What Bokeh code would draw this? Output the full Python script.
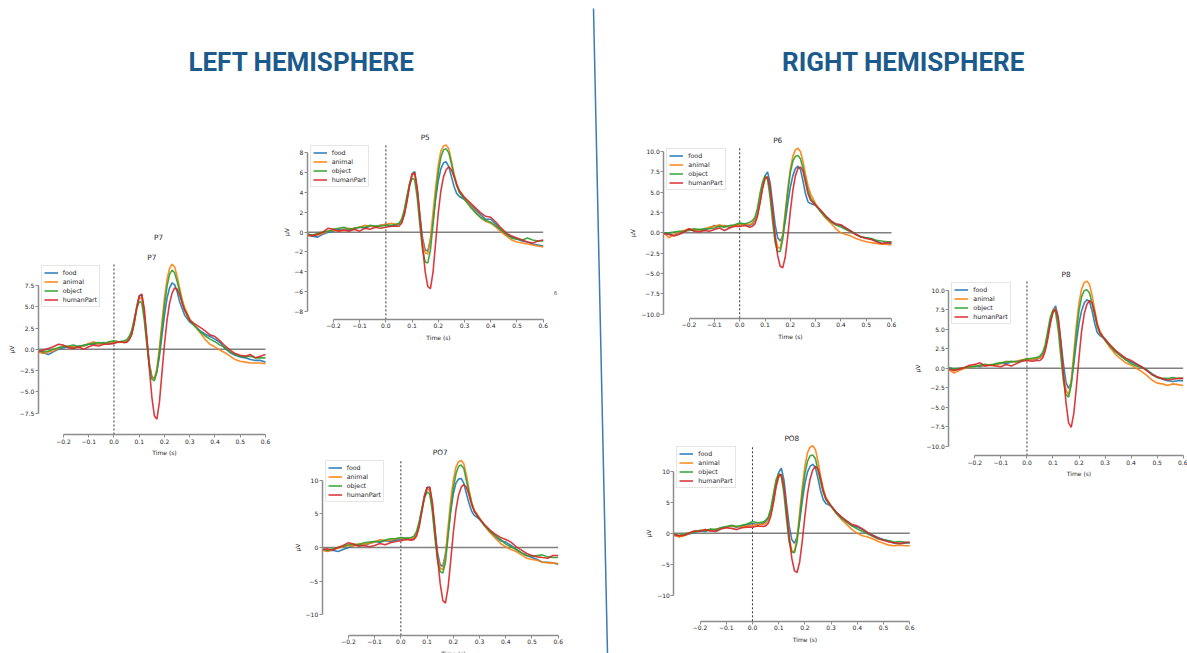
from bokeh.plotting import figure
from bokeh.models import (Range1d, LinearAxis, FixedTicker, CustomJSTickFormatter,
                          Legend, LegendItem)
from bokeh.core.properties import value
from bokeh.embed import file_html
from bokeh.resources import INLINE

W, H = 1187, 653

# ---------------------------------------------------------------- data
times = [-0.30, -0.28, -0.26, -0.24, -0.22, -0.20, -0.18, -0.16, -0.14, -0.12,
         -0.10, -0.08, -0.06, -0.04, -0.02, 0.00, 0.02, 0.04,
         0.05, 0.06, 0.07, 0.08, 0.09, 0.10, 0.11, 0.12, 0.13, 0.14, 0.15, 0.16,
         0.17, 0.18, 0.19, 0.20, 0.21, 0.22, 0.23, 0.24, 0.25, 0.26, 0.27, 0.28,
         0.30, 0.32, 0.34, 0.36, 0.38, 0.40, 0.42, 0.44, 0.46, 0.48, 0.50, 0.52,
         0.54, 0.56, 0.58, 0.60]

conditions = ["food", "animal", "object", "humanPart"]
colors = ["#1f77b4", "#ff7f0e", "#2ca02c", "#d62728"]

x_ticks = [-0.2, -0.1, 0.0, 0.1, 0.2, 0.3, 0.4, 0.5, 0.6]
P7_yticks = [-7.5, -5.0, -2.5, 0.0, 2.5, 5.0, 7.5]
P5_yticks = [-8, -6, -4, -2, 0, 2, 4, 6, 8]
PO7_yticks = [-10, -5, 0, 5, 10]
P6_yticks = [-10.0, -7.5, -5.0, -2.5, 0.0, 2.5, 5.0, 7.5, 10.0]
PO8_yticks = [-10, -5, 0, 5, 10]
P8_yticks = [-10.0, -7.5, -5.0, -2.5, 0.0, 2.5, 5.0, 7.5, 10.0]

# P7 (µV)
P7_food = [-0.2, -0.4, -0.6, -0.3, 0.0, 0.2, 0.3, 0.2, 0.4, 0.4, 0.6, 0.6, 0.7, 0.8, 0.7, 0.8, 0.9, 0.8,
           0.9, 1.2, 1.8, 3.2, 5.0, 6.3, 6.4, 4.2, 1.2, -1.6, -3.2, -3.4, -2.6, -0.8, 1.6, 4.0, 6.0, 7.2, 7.8, 7.6, 6.8, 5.6, 4.8, 4.0,
           3.2, 2.8, 2.2, 1.8, 1.5, 1.2, 0.8, 0.1, -0.4, -0.7, -0.9, -1.0, -1.2, -1.3, -1.3, -1.5]
P7_animal = [-0.3, -0.5, -0.3, -0.2, 0.1, 0.4, 0.3, 0.3, 0.2, 0.4, 0.7, 0.9, 0.6, 0.7, 0.8, 0.9, 0.8, 0.9,
             1.0, 1.3, 1.9, 3.3, 4.9, 6.0, 6.1, 3.9, 1.0, -1.8, -3.3, -3.5, -2.2, 0.2, 3.2, 6.0, 8.2, 9.5, 10.0, 9.7, 8.6, 7.2, 5.9, 4.9,
             3.6, 2.8, 2.0, 1.2, 0.6, 0.3, -0.1, -0.4, -0.8, -1.2, -1.4, -1.5, -1.6, -1.6, -1.6, -1.7]
P7_object = [-0.1, -0.3, -0.2, 0.0, 0.2, 0.3, 0.4, 0.5, 0.3, 0.5, 0.6, 0.7, 0.8, 0.7, 0.9, 1.0, 0.9, 1.0,
             1.1, 1.5, 2.2, 3.5, 4.8, 5.6, 5.5, 3.5, 0.6, -2.0, -3.5, -3.7, -2.6, -0.4, 2.4, 5.2, 7.4, 8.8, 9.3, 9.0, 8.0, 6.8, 5.6, 4.6,
             3.4, 2.7, 2.1, 1.6, 1.2, 0.9, 0.5, 0.2, -0.3, -0.6, -0.8, -0.9, -0.8, -1.0, -1.0, -1.0]
P7_humanPart = [-0.3, -0.1, 0.1, 0.3, 0.6, 0.5, 0.2, 0.1, 0.3, 0.0, 0.3, 0.5, 0.4, 0.6, 0.6, 0.7, 0.9, 0.8,
                0.8, 1.1, 1.7, 3.0, 4.8, 6.2, 6.5, 4.8, 1.5, -2.2, -5.6, -7.8, -8.2, -6.2, -2.8, 0.6, 3.4, 5.4, 6.6, 7.2, 7.1, 6.4, 5.4, 4.6,
                3.4, 3.0, 2.6, 2.2, 1.7, 1.5, 1.0, 0.4, -0.1, -0.5, -0.7, -0.8, -0.6, -1.0, -0.8, -0.6]

# P5 (µV)
P5_food = [-0.3, -0.4, -0.5, -0.2, 0.0, 0.1, 0.3, 0.3, 0.2, 0.4, 0.5, 0.4, 0.6, 0.6, 0.7, 0.8, 0.6, 0.7,
           0.8, 1.0, 1.8, 3.2, 4.8, 5.9, 6.1, 4.2, 1.6, -0.6, -1.8, -1.9, -0.8, 1.2, 3.4, 5.2, 6.4, 7.0, 7.1, 6.6, 5.6, 4.6, 3.9, 3.6,
           3.3, 2.8, 2.3, 1.8, 1.3, 1.3, 0.8, 0.2, -0.3, -0.5, -0.7, -0.9, -1.0, -1.2, -1.3, -1.4]
P5_animal = [-0.4, -0.3, -0.3, -0.1, 0.1, 0.2, 0.1, 0.3, 0.4, 0.3, 0.5, 0.7, 0.6, 0.5, 0.7, 0.8, 0.9, 0.8,
             0.8, 1.1, 1.9, 3.3, 4.8, 5.8, 5.9, 4.0, 1.3, -0.9, -2.1, -2.2, -0.6, 2.0, 4.6, 6.8, 8.2, 8.7, 8.8, 8.4, 7.2, 5.9, 4.9, 4.2,
             3.4, 2.7, 2.1, 1.5, 1.1, 0.9, 0.5, 0.0, -0.4, -0.8, -1.0, -1.1, -1.2, -1.3, -1.4, -1.5]
P5_object = [-0.2, -0.3, -0.1, 0.0, 0.1, 0.3, 0.4, 0.5, 0.3, 0.4, 0.5, 0.5, 0.7, 0.6, 0.6, 0.7, 0.7, 0.8,
             0.9, 1.3, 2.2, 3.6, 4.8, 5.4, 5.3, 3.4, 0.6, -1.8, -3.0, -3.1, -1.8, 0.8, 3.6, 6.0, 7.6, 8.3, 8.4, 8.0, 6.9, 5.7, 4.7, 4.0,
             3.3, 2.6, 2.0, 1.5, 1.2, 1.0, 0.6, 0.2, -0.2, -0.6, -0.7, -0.8, -0.6, -0.8, -0.9, -0.9]
P5_humanPart = [-0.2, -0.4, -0.2, 0.0, 0.4, 0.3, 0.1, 0.2, 0.1, 0.3, 0.1, 0.4, 0.3, 0.5, 0.4, 0.5, 0.6, 0.6,
                0.6, 0.9, 1.7, 3.0, 4.6, 5.8, 6.0, 4.4, 1.6, -1.4, -4.0, -5.5, -5.7, -4.0, -1.0, 2.0, 4.2, 5.6, 6.3, 6.6, 6.3, 5.6, 4.8, 4.2,
                3.5, 3.0, 2.5, 2.0, 1.6, 1.5, 1.0, 0.4, -0.1, -0.4, -0.6, -0.8, -1.0, -1.1, -0.9, -0.8]

# PO7 (µV)
PO7_food = [-0.3, -0.5, -0.4, -0.6, -0.3, 0.0, 0.3, 0.4, 0.3, 0.6, 0.9, 0.8, 1.0, 0.9, 1.1, 1.2, 1.3, 1.2,
            1.4, 2.0, 3.4, 5.6, 7.8, 9.0, 9.0, 6.4, 2.6, -0.8, -2.6, -2.8, -1.0, 2.2, 5.4, 8.0, 9.6, 10.2, 10.3, 9.6, 8.0, 6.6, 5.4, 4.8,
            4.2, 3.2, 2.4, 1.6, 1.0, 0.8, 0.3, -0.3, -0.8, -1.2, -1.5, -1.8, -2.2, -2.2, -2.3, -2.5]
PO7_animal = [-0.4, -0.6, -0.3, -0.1, 0.1, 0.3, 0.2, 0.6, 0.5, 0.6, 0.8, 1.2, 1.0, 1.1, 1.3, 1.4, 1.2, 1.3,
              1.5, 2.1, 3.5, 5.6, 7.6, 8.7, 8.6, 6.0, 2.0, -1.4, -3.1, -3.3, -1.2, 3.0, 7.0, 10.0, 12.0, 12.8, 13.0, 12.5, 10.8, 8.6, 6.8, 5.6,
              4.4, 3.2, 2.2, 1.4, 0.6, 0.1, -0.3, -0.6, -1.1, -1.6, -1.8, -1.9, -2.2, -2.3, -2.3, -2.4]
PO7_object = [-0.2, -0.4, -0.2, 0.0, 0.2, 0.4, 0.5, 0.4, 0.7, 0.8, 0.9, 0.9, 1.1, 1.3, 1.3, 1.5, 1.4, 1.5,
              1.7, 2.4, 3.9, 5.8, 7.4, 8.3, 8.0, 5.4, 1.4, -2.0, -3.6, -3.8, -2.2, 1.6, 5.6, 8.8, 11.0, 12.1, 12.3, 11.8, 10.0, 8.2, 6.6, 5.4,
              4.3, 3.2, 2.4, 1.8, 1.2, 0.5, 0.1, -0.3, -0.8, -1.2, -1.3, -1.2, -1.1, -1.4, -1.5, -1.5]
PO7_humanPart = [-0.3, -0.2, -0.4, 0.0, 0.3, 0.7, 0.5, 0.2, 0.3, 0.1, 0.3, 0.6, 0.4, 0.7, 0.9, 1.0, 1.2, 1.1,
                 1.2, 1.7, 3.1, 5.3, 7.6, 8.9, 9.0, 6.8, 2.8, -1.6, -5.4, -7.9, -8.3, -6.0, -2.0, 2.2, 5.6, 7.8, 9.0, 9.4, 9.0, 7.8, 6.4, 5.4,
                 4.3, 3.4, 2.6, 2.0, 1.5, 1.2, 0.8, 0.1, -0.4, -0.9, -1.2, -1.4, -1.5, -1.6, -1.2, -1.2]

# P6 (µV)
P6_food = [0.0, -0.1, -0.3, 0.0, 0.2, 0.4, 0.3, 0.4, 0.3, 0.6, 0.9, 0.8, 0.9, 0.7, 0.9, 1.1, 1.0, 0.9,
           1.1, 1.5, 2.3, 3.8, 5.6, 7.0, 7.5, 6.2, 3.6, 1.0, -0.6, -1.0, -0.4, 1.4, 3.6, 5.6, 7.0, 7.9, 8.2, 7.8, 6.4, 4.8, 3.8, 3.6,
           3.4, 2.7, 2.0, 1.4, 1.0, 0.9, 0.5, 0.2, -0.2, -0.5, -0.6, -0.8, -1.0, -1.3, -1.3, -1.3]
P6_animal = [0.0, -0.6, -0.2, 0.1, 0.3, 0.5, 0.4, 0.3, 0.5, 0.7, 0.8, 1.0, 0.8, 0.8, 0.9, 1.0, 1.1, 1.0,
             1.2, 1.6, 2.4, 3.9, 5.5, 6.6, 6.8, 5.2, 2.4, -0.4, -1.8, -1.9, -0.2, 2.6, 5.4, 7.8, 9.4, 10.2, 10.4, 10.0, 8.8, 7.2, 5.8, 4.8,
             3.6, 2.6, 1.8, 1.2, 0.5, 0.0, -0.2, -0.4, -0.7, -0.9, -1.1, -1.2, -1.3, -1.4, -1.4, -1.5]
P6_object = [-0.1, 0.0, 0.1, 0.2, 0.2, 0.3, 0.5, 0.4, 0.5, 0.5, 0.6, 0.8, 0.7, 0.9, 1.0, 1.2, 1.1, 1.3,
             1.5, 1.9, 3.0, 4.8, 6.2, 7.0, 6.6, 4.4, 1.4, -1.2, -2.3, -2.3, -0.8, 2.0, 5.0, 7.4, 8.8, 9.4, 9.5, 9.1, 8.0, 6.6, 5.2, 4.3,
             3.4, 2.6, 1.9, 1.4, 1.0, 0.7, 0.4, 0.1, -0.2, -0.5, -0.6, -0.7, -0.9, -1.0, -1.1, -1.1]
P6_humanPart = [-0.1, -0.2, -0.4, -0.2, 0.1, 0.5, 0.2, 0.1, 0.3, 0.2, 0.4, 0.6, 0.3, 0.6, 0.8, 0.8, 0.9, 0.7,
                0.8, 1.1, 2.0, 3.6, 5.4, 6.7, 6.9, 5.6, 2.8, -0.4, -2.8, -4.1, -4.3, -3.0, -0.4, 2.6, 5.2, 7.0, 7.9, 8.1, 7.6, 6.2, 4.8, 4.0,
                3.4, 2.8, 2.1, 1.5, 1.1, 1.0, 0.6, 0.2, -0.2, -0.5, -0.7, -0.8, -1.1, -1.3, -1.2, -1.2]

# PO8 (µV)
PO8_food = [-0.3, -0.5, -0.3, -0.1, 0.2, 0.4, 0.3, 0.6, 0.5, 0.9, 1.1, 1.2, 1.0, 1.2, 1.4, 1.6, 1.4, 1.6,
            1.9, 2.4, 3.4, 5.4, 7.8, 9.8, 10.5, 8.6, 4.8, 1.2, -1.0, -1.6, -0.6, 2.0, 5.2, 8.0, 9.9, 10.8, 11.1, 10.6, 8.8, 6.8, 5.4, 4.8,
            4.4, 3.4, 2.6, 1.8, 1.2, 1.0, 0.6, 0.1, -0.3, -0.7, -1.0, -1.2, -1.6, -1.7, -1.6, -1.5]
PO8_animal = [-0.3, -0.6, -0.4, 0.0, 0.3, 0.4, 0.6, 0.4, 0.7, 0.8, 1.0, 1.2, 1.1, 1.0, 1.2, 1.3, 1.5, 1.4,
              1.6, 2.0, 3.0, 5.0, 7.4, 9.0, 9.3, 7.2, 3.4, -0.6, -2.8, -3.0, -0.8, 3.4, 7.4, 10.8, 13.0, 13.9, 14.1, 13.5, 11.6, 9.2, 7.2, 5.8,
              4.4, 3.2, 2.2, 1.4, 0.6, 0.0, -0.4, -0.6, -0.9, -1.3, -1.6, -1.9, -2.0, -1.9, -2.0, -2.0]
PO8_object = [-0.1, -0.3, -0.1, 0.1, 0.2, 0.5, 0.4, 0.7, 0.6, 0.9, 1.0, 1.3, 1.1, 1.3, 1.5, 1.9, 1.7, 1.8,
              2.1, 2.6, 4.0, 6.4, 8.6, 9.6, 9.2, 6.4, 2.2, -1.4, -3.0, -3.1, -1.4, 2.4, 6.4, 9.6, 11.6, 12.5, 12.6, 12.0, 10.2, 8.2, 6.6, 5.4,
              4.3, 3.2, 2.4, 1.8, 1.2, 0.7, 0.3, -0.1, -0.5, -0.9, -1.1, -1.2, -1.4, -1.3, -1.4, -1.5]
PO8_humanPart = [-0.2, -0.4, -0.3, 0.1, 0.4, 0.3, 0.6, 0.4, 0.3, 0.7, 0.9, 0.8, 0.6, 0.9, 1.0, 1.0, 1.2, 1.1,
                 1.2, 1.6, 2.8, 5.0, 7.6, 9.3, 9.5, 7.6, 3.8, -0.6, -4.0, -6.0, -6.3, -4.6, -1.2, 2.8, 6.4, 8.8, 10.2, 10.8, 10.3, 8.8, 6.8, 5.6,
                 4.4, 3.4, 2.6, 2.0, 1.4, 1.2, 0.7, 0.1, -0.4, -0.8, -1.1, -1.4, -1.5, -1.6, -1.5, -1.4]

# P8 (µV)
P8_food = [0.0, -0.1, -0.2, 0.0, 0.2, 0.3, 0.2, 0.4, 0.4, 0.5, 0.7, 0.6, 0.8, 0.9, 1.0, 1.2, 1.1, 1.2,
           1.4, 1.7, 2.6, 4.2, 6.0, 7.4, 8.0, 6.6, 3.6, 0.6, -1.8, -2.6, -1.8, 0.6, 3.4, 5.8, 7.4, 8.4, 8.8, 8.6, 7.4, 5.8, 4.6, 4.2,
           3.8, 2.9, 2.2, 1.6, 1.1, 0.8, 0.5, 0.2, -0.2, -0.7, -1.1, -1.4, -1.6, -1.7, -1.6, -1.6]
P8_animal = [-0.2, -0.6, -0.3, 0.0, 0.1, 0.3, 0.4, 0.3, 0.5, 0.4, 0.6, 0.9, 0.8, 0.9, 1.1, 1.2, 1.1, 1.3,
             1.3, 1.6, 2.4, 4.0, 5.9, 7.3, 7.7, 6.0, 2.8, -0.6, -2.8, -3.4, -1.6, 2.0, 5.6, 8.4, 10.2, 11.0, 11.2, 10.8, 9.4, 7.6, 5.8, 4.8,
             3.6, 2.6, 1.8, 1.2, 0.7, 0.4, 0.0, -0.4, -0.9, -1.5, -1.9, -2.0, -2.2, -2.0, -2.1, -2.2]
P8_object = [0.1, -0.1, 0.0, 0.1, 0.2, 0.2, 0.4, 0.5, 0.4, 0.6, 0.7, 0.8, 0.9, 0.8, 1.0, 1.2, 1.3, 1.4,
             1.6, 2.0, 3.0, 4.8, 6.6, 7.5, 7.2, 5.0, 1.6, -1.6, -3.4, -3.7, -2.2, 1.0, 4.6, 7.4, 9.2, 10.0, 10.1, 9.7, 8.4, 6.8, 5.4, 4.5,
             3.6, 2.8, 2.1, 1.6, 1.1, 0.6, 0.3, 0.1, -0.2, -0.8, -1.2, -1.3, -1.3, -1.2, -1.3, -1.3]
P8_humanPart = [-0.1, -0.3, -0.1, 0.1, 0.4, 0.5, 0.7, 0.3, 0.4, 0.3, 0.2, 0.5, 0.3, 0.6, 0.9, 1.0, 0.9, 1.0,
                1.0, 1.3, 2.2, 3.8, 5.8, 7.2, 7.6, 6.4, 3.4, -0.6, -4.4, -7.0, -7.6, -5.8, -2.4, 1.4, 4.8, 7.0, 8.2, 8.7, 8.4, 7.2, 5.6, 4.6,
                3.7, 3.0, 2.3, 1.8, 1.3, 1.0, 0.6, 0.2, -0.3, -0.8, -1.1, -1.3, -1.5, -1.4, -1.3, -1.3]

channels = {
    "P7": [P7_food, P7_animal, P7_object, P7_humanPart],
    "P5": [P5_food, P5_animal, P5_object, P5_humanPart],
    "PO7": [PO7_food, PO7_animal, PO7_object, PO7_humanPart],
    "P6": [P6_food, P6_animal, P6_object, P6_humanPart],
    "PO8": [PO8_food, PO8_animal, PO8_object, PO8_humanPart],
    "P8": [P8_food, P8_animal, P8_object, P8_humanPart],
}

# ---------------------------------------------------------------- layout
# axes box on the page (left, right, top, bottom in px), symmetric y limit,
# y ticks and decimals of the y tick labels
panels = [
    ("P7", 37.7, 265.0, 263.7, 434.0, 10.0, P7_yticks, 1),
    ("P5", 306.7, 542.7, 144.4, 318.9, 8.8, P5_yticks, 0),
    ("PO7", 321.7, 557.7, 459.2, 634.8, 13.1, PO7_yticks, 0),
    ("P6", 663.3, 891.0, 146.9, 317.8, 10.5, P6_yticks, 1),
    ("PO8", 673.3, 909.3, 444.9, 620.8, 14.15, PO8_yticks, 0),
    ("P8", 948.3, 1182.7, 280.6, 455.0, 11.2, P8_yticks, 1),
]
XMIN, XMAX = times[0], times[-1]
FONT = "DejaVu Sans"
TXT = "#262626"
SPINE = "#8c8c8c"
LEG_ROW, LEG_PAD = 9, 2

p = figure(width=W, height=H, x_range=Range1d(0, W), y_range=Range1d(H, 0),
           output_backend="svg", toolbar_location=None, min_border=0,
           x_axis_location=None, y_axis_location=None, outline_line_color=None)
p.grid.visible = False
p.background_fill_color = "white"
p.border_fill_color = "white"

titles_x, titles_y, titles = [], [], []

for name, left, right, top, bottom, ylim, yticks, dec in panels:
    xr, yr = "x_" + name, "y_" + name
    pps = (right - left) / (XMAX - XMIN)
    ppu = (bottom - top) / (2 * ylim)
    p.extra_x_ranges[xr] = Range1d(XMIN - left / pps, XMIN + (W - left) / pps)
    p.extra_y_ranges[yr] = Range1d(-ylim - (H - bottom) / ppu, ylim + top / ppu)

    # reference lines: zero level and stimulus onset
    p.segment(x0=[XMIN], y0=[0], x1=[XMAX], y1=[0], x_range_name=xr, y_range_name=yr,
              line_color="#808080", line_width=1.5)
    p.segment(x0=[0], y0=[-ylim], x1=[0], y1=[ylim], x_range_name=xr, y_range_name=yr,
              line_color="#333333", line_width=1, line_dash=value([2, 2]))

    items = []
    for cond, col, ys in zip(conditions, colors, channels[name]):
        r = p.line(times, ys, x_range_name=xr, y_range_name=yr,
                   line_color=col, line_width=1.6, line_alpha=0.9)
        items.append(LegendItem(label=cond, renderers=[r]))

    xa = LinearAxis(x_range_name=xr, y_range_name=yr, fixed_location=-ylim,
                    bounds=(x_ticks[0], x_ticks[-1]), ticker=FixedTicker(ticks=x_ticks),
                    formatter=CustomJSTickFormatter(
                        code="return tick.toFixed(1).replace('-', '\\u2212')"),
                    axis_label="Time (s)")
    ya = LinearAxis(x_range_name=xr, y_range_name=yr, fixed_location=XMIN,
                    bounds=(yticks[0], yticks[-1]), ticker=FixedTicker(ticks=yticks),
                    formatter=CustomJSTickFormatter(
                        code="return tick.toFixed(%d).replace('-', '\\u2212')" % dec),
                    axis_label="µV")
    for ax in (xa, ya):
        ax.axis_line_color = SPINE
        ax.axis_line_width = 1.5
        ax.major_tick_line_color = SPINE
        ax.major_tick_in = 0
        ax.major_tick_out = 3
        ax.minor_tick_line_color = None
        ax.major_label_standoff = 1
        ax.major_label_text_font = FONT
        ax.major_label_text_font_size = "6px"
        ax.major_label_text_color = TXT
        ax.axis_label_text_font = FONT
        ax.axis_label_text_font_size = "6px"
        ax.axis_label_text_font_style = "normal"
        ax.axis_label_text_color = TXT
        ax.axis_label_standoff = 2
    p.add_layout(xa, "below")
    p.add_layout(ya, "left")

    leg_h = 4 * LEG_ROW + 2 * LEG_PAD
    leg = Legend(items=items, location=(left + 3, H - (top + 3 + leg_h)),
                 label_text_font=FONT, label_text_font_size="6.3px",
                 label_text_color=TXT, label_height=LEG_ROW, glyph_height=LEG_ROW,
                 glyph_width=14, label_standoff=5, spacing=0, padding=LEG_PAD,
                 margin=0, border_line_color="#cccccc", border_line_width=1,
                 background_fill_color="white", background_fill_alpha=0.8)
    p.add_layout(leg, "center")

    titles_x.append((left + right) / 2)
    titles_y.append(top - 7)
    titles.append(name)

# a second, slightly offset P7 caption
titles_x.append(158)
titles_y.append(237)
titles.append("P7")

p.text(x=titles_x, y=titles_y, text=titles, text_font=value(FONT),
       text_font_size="7.3px", text_color=TXT, text_align="center",
       text_baseline="middle")

# stray tick label fragment at the right of P5
p.text(x=[555], y=[292], text=["6"], text_font=value(FONT), text_font_size="5.5px",
       text_color="#555555", text_align="center", text_baseline="middle")

# hemisphere headings and the divider between them
p.text(x=[301, 903], y=[61, 61], text=["LEFT HEMISPHERE", "RIGHT HEMISPHERE"],
       text_font=value("Roboto"), text_font_style="bold",
       text_font_size="26px", text_color="#1C5A8C", text_align="center",
       text_baseline="middle")
p.segment(x0=[593], y0=[8], x1=[607], y1=[H], line_color="#3C7BB5", line_width=1.5)

open("out.html", "w").write(file_html(p, INLINE))
